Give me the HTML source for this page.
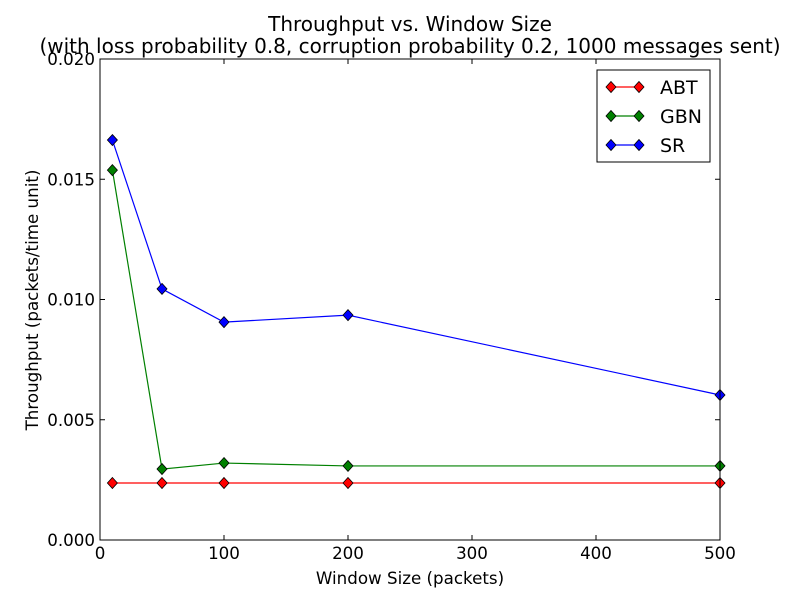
<!DOCTYPE html>
<html><head><meta charset="utf-8"><style>
body{margin:0;background:#fff;font-family:"Liberation Sans","DejaVu Sans",sans-serif}
svg text{font-family:"DejaVu Sans","Liberation Sans",sans-serif}
</style></head><body>
<svg id="chart" width="800" height="600" xmlns="http://www.w3.org/2000/svg">
<rect width="800" height="600" fill="#fff"/>
<text x="410" y="31" font-size="20" text-anchor="middle">Throughput vs. Window Size</text>
<text x="410" y="53" font-size="20" text-anchor="middle">(with loss probability 0.8, corruption probability 0.2, 1000 messages sent)</text>
<g id="ticks"></g>
<g id="series"></g>
<rect x="100" y="59" width="620" height="481" fill="none" stroke="#000" stroke-width="1"/>
<text x="410" y="584" font-size="16.7" text-anchor="middle">Window Size (packets)</text>
<text transform="translate(38,300) rotate(-90)" font-size="16.7" text-anchor="middle">Throughput (packets/time unit)</text>
<g id="legend">
<rect x="597" y="70" width="113" height="92" fill="#fff" stroke="#000"/>
</g>
</svg>
<script>
const windowSizes=[10,50,100,200,500];
const abtValues=[0.00237,0.00237,0.00237,0.00237,0.00237];
const gbnValues=[0.01538,0.00295,0.0032,0.00308,0.00308];
const srValues=[0.01663,0.01044,0.00906,0.00935,0.00603];
const xTicks=[0,100,200,300,400,500];
const yTicks=[0,0.005,0.01,0.015,0.02];
const yTickLabels=["0.000","0.005","0.010","0.015","0.020"];
const seriesNames=["ABT","GBN","SR"];
const seriesColors=["#ff0000","#008000","#0000ff"];
const NS="http://www.w3.org/2000/svg";
const X=v=>100+v/500*620, Y=v=>540-v/0.02*481;
function mk(t,a,p){const e=document.createElementNS(NS,t);for(const k in a)e.setAttribute(k,a[k]);p.appendChild(e);return e;}
const tg=document.getElementById('ticks');
xTicks.forEach(t=>{const x=X(t);
mk('line',{x1:x,x2:x,y1:540,y2:535,stroke:'#000'},tg);mk('line',{x1:x,x2:x,y1:59,y2:64,stroke:'#000'},tg);
const l=mk('text',{x:x,y:559,'font-size':16.7,'text-anchor':'middle'},tg);l.textContent=t;

});
yTicks.forEach((t,i)=>{const y=Y(t);
mk('line',{x1:100,x2:105,y1:y,y2:y,stroke:'#000'},tg);mk('line',{x1:715,x2:720,y1:y,y2:y,stroke:'#000'},tg);
const l=mk('text',{x:95,y:y+6,'font-size':16.7,'text-anchor':'end'},tg);l.textContent=yTickLabels[i];

});
const sg=document.getElementById('series');
function diamond(x,y,c,p){return mk('polygon',{points:`${x},${y-5.5} ${x+5},${y} ${x},${y+5.5} ${x-5},${y}`,fill:c,stroke:'#000','stroke-width':0.8},p);}
[abtValues,gbnValues,srValues].forEach((vals,si)=>{
const g=mk('g',{},sg);


mk('polyline',{points:vals.map((v,i)=>X(windowSizes[i])+','+Y(v)).join(' '),fill:'none',stroke:seriesColors[si],'stroke-width':1.2},g);
vals.forEach((v,i)=>{const d=diamond(X(windowSizes[i]),Y(v),seriesColors[si],g);

});
});
const lg=document.getElementById('legend');
seriesNames.forEach((n,i)=>{const y=87+i*29;
const g=mk('g',{},lg);


mk('line',{x1:611,x2:639,y1:y,y2:y,stroke:seriesColors[i],'stroke-width':1.2},g);
diamond(611,y,seriesColors[i],g);diamond(639,y,seriesColors[i],g);
const t=mk('text',{x:660,y:y+7,'font-size':19},g);t.textContent=n;});
</script>
</body></html>
